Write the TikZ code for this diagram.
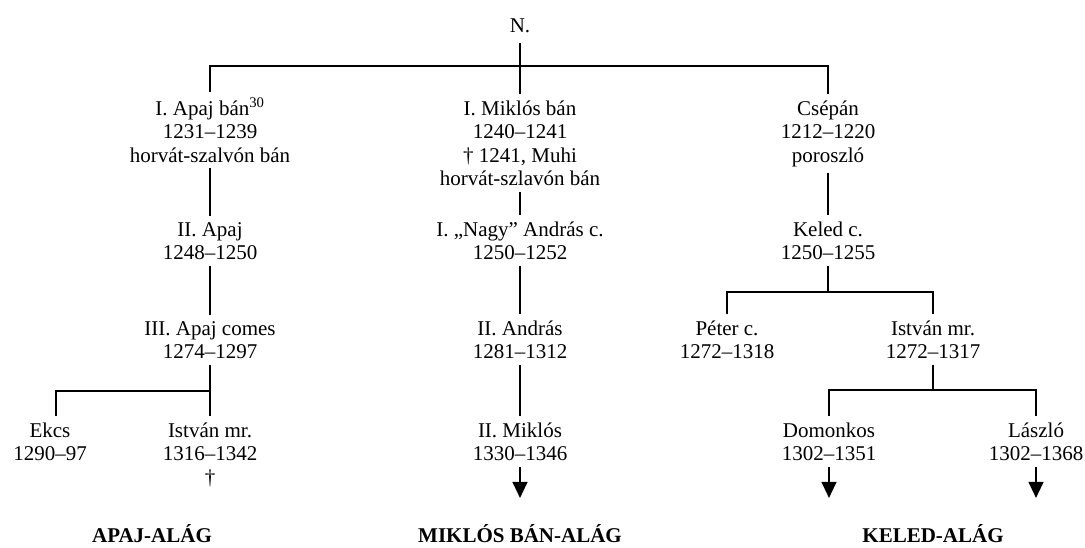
\documentclass[tikz,border=0pt]{standalone}
\usepackage{fontspec}
\setmainfont{Liberation Serif}
\usetikzlibrary{arrows.meta}

\begin{document}
\begin{tikzpicture}[x=1pt, y=-1pt,
                    person/.style={anchor=base, align=center, inner xsep=2pt, inner ysep=6pt, font=\fontsize{21}{23.5}\selectfont},
                    branch/.style={anchor=base, font=\fontsize{21}{23.5}\selectfont\bfseries},
                    tie/.style={line width=2pt},
                    heir/.style={line width=1.3pt, -{Triangle[length=16pt, width=15pt]}},
                ]
                    \useasboundingbox (0,0) rectangle (1085,547);

                    %Nodes (placed at the baseline of their last line)
                    \node[person, inner ysep=10pt](n) at (520,32) {N.};
                    \node[person](apaj1) at (210,162) {I. Apaj bán\textsuperscript{30}\\1231--1239\\horvát-szalvón bán};
                    \node[person](miklos1) at (520,185.5) {I. Miklós bán\\1240--1241\\† 1241, Muhi\\horvát-szlavón bán};
                    \node[person](csepan) at (828,162) {Csépán\\1212--1220\\poroszló};
                    \node[person](apaj2) at (210,259.5) {II. Apaj\\1248--1250};
                    \node[person](andras1) at (520,259.5) {I. „Nagy” András c.\\1250--1252};
                    \node[person](keled) at (828,259.5) {Keled c.\\1250--1255};
                    \node[person](apaj3) at (210,358.5) {III. Apaj comes\\1274--1297};
                    \node[person](andras2) at (520,358.5) {II. András\\1281--1312};
                    \node[person](peter) at (727,358.5) {Péter c.\\1272--1318};
                    \node[person](istvan1) at (933,358.5) {István mr.\\1272--1317};
                    \node[person](ekcs) at (50,460.5) {Ekcs\\1290--97};
                    \node[person](istvan2) at (210,484) {István mr.\\1316--1342\\†};
                    \node[person](miklos2) at (520,460.5) {II. Miklós\\1330--1346};
                    \node[person](domonkos) at (829,460.5) {Domonkos\\1302--1351};
                    \node[person](laszlo) at (1036,460.5) {László\\1302--1368};

                    \node[branch](apajag) at (152,542) {APAJ-ALÁG};
                    \node[branch](miklosag) at (520,542) {MIKLÓS BÁN-ALÁG};
                    \node[branch](keledag) at (933,542) {KELED-ALÁG};

                    %Bars
                    \coordinate (top) at (520,66);
                    \coordinate (apajbar) at (210,391);
                    \coordinate (keledbar) at (828,292);
                    \coordinate (istvanbar) at (933,390);

                    %Lines
                    \draw[tie](n.south) -- (top);
                    \draw[tie](apaj1.north) |- (top) -| (csepan.north);
                    \draw[tie](top) -- (miklos1.north);
                    \draw[tie](apaj1.south) -- (apaj2.north);
                    \draw[tie](apaj2.south) -- (apaj3.north);
                    \draw[tie](apaj3.south) -- (istvan2.north);
                    \draw[tie](apajbar) -| ([xshift=6pt]ekcs.north);
                    \draw[tie](miklos1.south) -- (andras1.north);
                    \draw[tie](andras1.south) -- (andras2.north);
                    \draw[tie](andras2.south) -- (miklos2.north);
                    \draw[tie](csepan.south) -- (keled.north);
                    \draw[tie](keled.south) -- (keledbar);
                    \draw[tie](peter.north) |- (keledbar) -| (istvan1.north);
                    \draw[tie](istvan1.south) -- (istvanbar);
                    \draw[tie](domonkos.north) |- (istvanbar) -| (laszlo.north);

                    %Arrows
                    \foreach \who in {miklos2, domonkos, laszlo}
                        \draw[heir](\who.south) -- ([yshift=-31pt]\who.south);
                \end{tikzpicture}
\end{document}
